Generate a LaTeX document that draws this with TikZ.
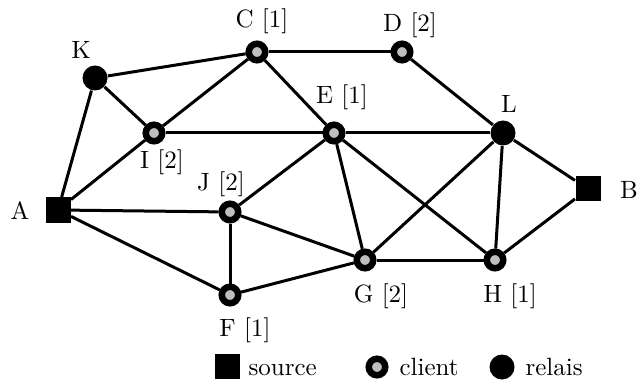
\documentclass[tikz,border=0pt]{standalone}
\begin{document}
\begin{tikzpicture}[x=0.4pt,y=-0.4pt,
        client/.style={circle,draw=black,fill=gray!50,line width=2.6pt,minimum size=6.6pt,inner sep=0pt},
        relais/.style={circle,fill=black,minimum size=10pt,inner sep=0pt},
        srcbox/.style={rectangle,fill=black,minimum size=10pt,inner sep=0pt},
        lien/.style={line width=1.2pt}]
        \useasboundingbox (0,0) rectangle (638,385);

        % Define nodes
        \node[srcbox] (A) at (58,210) {};
        \node[srcbox] (B) at (588,189) {};
        \node[client] (C) at (257,52) {};
        \node[client] (D) at (402,52) {};
        \node[client] (E) at (334,133) {};
        \node[client] (F) at (230,295) {};
        \node[client] (G) at (365,260) {};
        \node[client] (H) at (495,260) {};
        \node[client] (I) at (154,133) {};
        \node[client] (J) at (230,212) {};
        \node[relais] (K) at (95,78) {};
        \node[relais] (L) at (503,133) {};

        % Draw the links
        \draw[lien] (A) -- (K);
        \draw[lien] (A) -- (I);
        \draw[lien] (A) -- (J);
        \draw[lien] (A) -- (F);
        \draw[lien] (K) -- (C);
        \draw[lien] (K) -- (I);
        \draw[lien] (I) -- (C);
        \draw[lien] (I) -- (E);
        \draw[lien] (C) -- (D);
        \draw[lien] (C) -- (E);
        \draw[lien] (D) -- (L);
        \draw[lien] (E) -- (L);
        \draw[lien] (L) -- (B);
        \draw[lien] (J) -- (F);
        \draw[lien] (J) -- (E);
        \draw[lien] (J) -- (G);
        \draw[lien] (F) -- (G);
        \draw[lien] (E) -- (G);
        \draw[lien] (E) -- (H);
        \draw[lien] (L) -- (G);
        \draw[lien] (L) -- (H);
        \draw[lien] (G) -- (H);
        \draw[lien] (H) -- (B);

        % Label vertices
        \node (labA) at (20,211) {A};
        \node (labB) at (629,190) {B};
        \node (labC) at (262,21) {C [1]};
        \node (labD) at (410,25) {D [2]};
        \node (labE) at (342,97) {E [1]};
        \node (labF) at (245,330) {F [1]};
        \node (labG) at (381,296) {G [2]};
        \node (labH) at (510,296) {H [1]};
        \node (labI) at (162,162) {I [2]};
        \node (labJ) at (221,184) {J [2]};
        \node (labK) at (81,50) {K};
        \node (labL) at (509,104) {L};

        % Legend
        \node[srcbox] (legS) at (227,366) {};
        \node[anchor=base west,inner sep=0pt] (legStxt) at (248,375) {source};
        \node[client] (legC) at (377,367) {};
        \node[anchor=base west,inner sep=0pt] (legCtxt) at (399,375) {client};
        \node[relais] (legR) at (502,367) {};
        \node[anchor=base west,inner sep=0pt] (legRtxt) at (525,375) {relais};
    \end{tikzpicture}
\end{document}
